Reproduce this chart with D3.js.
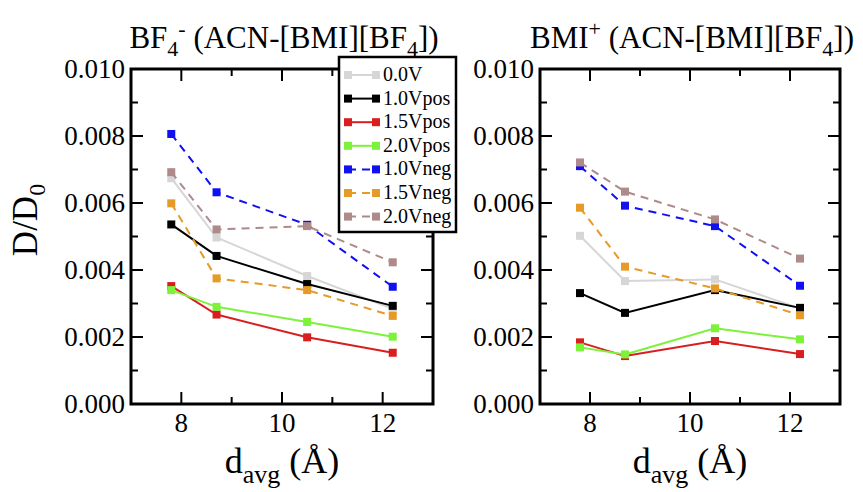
<!DOCTYPE html>
<html>
<head>
<meta charset="utf-8">
<script src="https://cdn.jsdelivr.net/npm/d3@7"></script>
<style>
  body { margin: 0; background: #fff; }
  text { font-family: "Liberation Serif", "DejaVu Serif", serif; fill: #000; }
</style>
</head>
<body>
<svg id="chart" width="863" height="492"></svg>
<script>
// d_avg (Angstrom) for every series
const dAvg = [7.8, 8.7, 10.5, 12.2];

const seriesNames = ['0.0V', '1.0Vpos', '1.5Vpos', '2.0Vpos', '1.0Vneg', '1.5Vneg', '2.0Vneg'];
const seriesColors = ['#d6d6d6', '#000000', '#d81e1e', '#7cf23a', '#1010f0', '#e69a28', '#ae8a8a'];
const seriesDashed = [false, false, false, false, true, true, true];

// BF4- panel, D/D0
const anionValues = [
  [0.00674, 0.00497, 0.00382, 0.00284],
  [0.00536, 0.00442, 0.00358, 0.00293],
  [0.00352, 0.00267, 0.00199, 0.00153],
  [0.00340, 0.00290, 0.00245, 0.00201],
  [0.00806, 0.00632, 0.00535, 0.00350],
  [0.00599, 0.00375, 0.00340, 0.00263],
  [0.00692, 0.00521, 0.00531, 0.00423]
];

// BMI+ panel, D/D0
const cationValues = [
  [0.00502, 0.00367, 0.00372, 0.00285],
  [0.00331, 0.00272, 0.00340, 0.00287],
  [0.00184, 0.00143, 0.00188, 0.00149],
  [0.00169, 0.00148, 0.00226, 0.00193],
  [0.00710, 0.00592, 0.00531, 0.00353],
  [0.00586, 0.00410, 0.00345, 0.00265],
  [0.00721, 0.00634, 0.00551, 0.00434]
];

const yTicks = [0, 0.002, 0.004, 0.006, 0.008, 0.010];
const yMinorTicks = [0.001, 0.003, 0.005, 0.007, 0.009];
const xTicks = [8, 10, 12];
const xMinorTicks = [9, 11];

const svg = d3.select('#chart');
const TOP = 69, BOTTOM = 404;

const panels = [
  { left: 131, right: 433, values: anionValues, legend: true,
    title: [['BF', 0], ['4', 1], ['-', -1], [' (ACN-[BMI][BF', 0], ['4', 1], ['])', 0]] },
  { left: 540, right: 840, values: cationValues, legend: false,
    title: [['BMI', 0], ['+', -1], [' (ACN-[BMI][BF', 0], ['4', 1], ['])', 0]] }
];

panels.forEach(p => drawPanel(p));

function drawPanel(p) {
  const x = d3.scaleLinear().domain([7, 13]).range([p.left, p.right]);
  const y = d3.scaleLinear().domain([0, 0.010]).range([BOTTOM, TOP]);
  const g = svg.append('g');

  // series
  const line = d3.line().x((d, i) => x(dAvg[i])).y(d => y(d));
  p.values.forEach((vals, si) => {
    g.append('path')
      .attr('d', line(vals))
      .attr('fill', 'none')
      .attr('stroke', seriesColors[si])
      .attr('stroke-width', 2)
      .attr('stroke-dasharray', seriesDashed[si] ? '8,6' : null);
    g.selectAll(null)
      .data(vals)
      .enter()
      .append('rect')
      .attr('x', (d, i) => x(dAvg[i]) - 4)
      .attr('y', d => y(d) - 4)
      .attr('width', 8)
      .attr('height', 8)
      .attr('fill', seriesColors[si]);
  });

  // ticks, inward on all four sides
  const tickG = g.append('g').attr('stroke', '#000').attr('stroke-width', 2);
  const addY = (vals, len) => vals.forEach(v => {
    tickG.append('line').attr('x1', p.left).attr('x2', p.left + len).attr('y1', y(v)).attr('y2', y(v));
    tickG.append('line').attr('x1', p.right).attr('x2', p.right - len).attr('y1', y(v)).attr('y2', y(v));
  });
  const addX = (vals, len) => vals.forEach(v => {
    tickG.append('line').attr('y1', BOTTOM).attr('y2', BOTTOM - len).attr('x1', x(v)).attr('x2', x(v));
    tickG.append('line').attr('y1', TOP).attr('y2', TOP + len).attr('x1', x(v)).attr('x2', x(v));
  });
  addY(yTicks, 12);
  addY(yMinorTicks, 7);
  addX(xTicks, 12);
  addX(xMinorTicks, 7);

  g.append('rect')
    .attr('x', p.left).attr('y', TOP)
    .attr('width', p.right - p.left).attr('height', BOTTOM - TOP)
    .attr('fill', 'none').attr('stroke', '#000').attr('stroke-width', 3);

  // tick labels
  g.selectAll(null).data(yTicks).enter().append('text')
    .attr('x', p.left - 6).attr('y', d => y(d) + 9)
    .attr('text-anchor', 'end').attr('font-size', 27)
    .text(d3.format('.3f'));
  g.selectAll(null).data(xTicks).enter().append('text')
    .attr('x', d => x(d)).attr('y', BOTTOM + 28)
    .attr('text-anchor', 'middle').attr('font-size', 27)
    .text(d => d);

  // title
  const title = g.append('text')
    .attr('x', (p.left + p.right) / 2 + 2).attr('y', 48)
    .attr('text-anchor', 'middle').attr('font-size', 31);
  p.title.forEach(([t, s]) => {
    title.append('tspan')
      .attr('font-size', s === 0 ? 31 : 22)
      .attr('baseline-shift', s === 1 ? '-35%' : s === -1 ? '55%' : null)
      .text(t);
  });

  // x axis label
  const xl = g.append('text')
    .attr('x', (p.left + p.right) / 2).attr('y', 473)
    .attr('text-anchor', 'middle').attr('font-size', 36);
  xl.append('tspan').text('d');
  xl.append('tspan').attr('font-size', 26).attr('baseline-shift', '-40%').text('avg');
  xl.append('tspan').text(' (Å)');

  if (p.legend) drawLegend();
}

function drawLegend() {
  const lg = svg.append('g');
  lg.append('rect')
    .attr('x', 339).attr('y', 57).attr('width', 117).attr('height', 175)
    .attr('fill', '#fff').attr('stroke', '#000').attr('stroke-width', 2.5);
  seriesNames.forEach((name, i) => {
    const cy = 75 + i * 23.6;
    lg.append('line')
      .attr('x1', 348).attr('x2', 376).attr('y1', cy).attr('y2', cy)
      .attr('stroke', seriesColors[i]).attr('stroke-width', 2)
      .attr('stroke-dasharray', seriesDashed[i] ? '8,6' : null);
    [348, 376].forEach(cx => lg.append('rect')
      .attr('x', cx - 4).attr('y', cy - 4).attr('width', 8).attr('height', 8)
      .attr('fill', seriesColors[i]));
    lg.append('text')
      .attr('x', 383).attr('y', cy + 6)
      .attr('font-size', 20)
      .text(name);
  });
}

// y axis label
const yl = svg.append('text')
  .attr('transform', 'translate(37,220) rotate(-90)')
  .attr('text-anchor', 'middle').attr('font-size', 35);
yl.append('tspan').text('D/D');
yl.append('tspan').attr('font-size', 24).attr('baseline-shift', '-35%').text('0');
</script>
</body>
</html>
